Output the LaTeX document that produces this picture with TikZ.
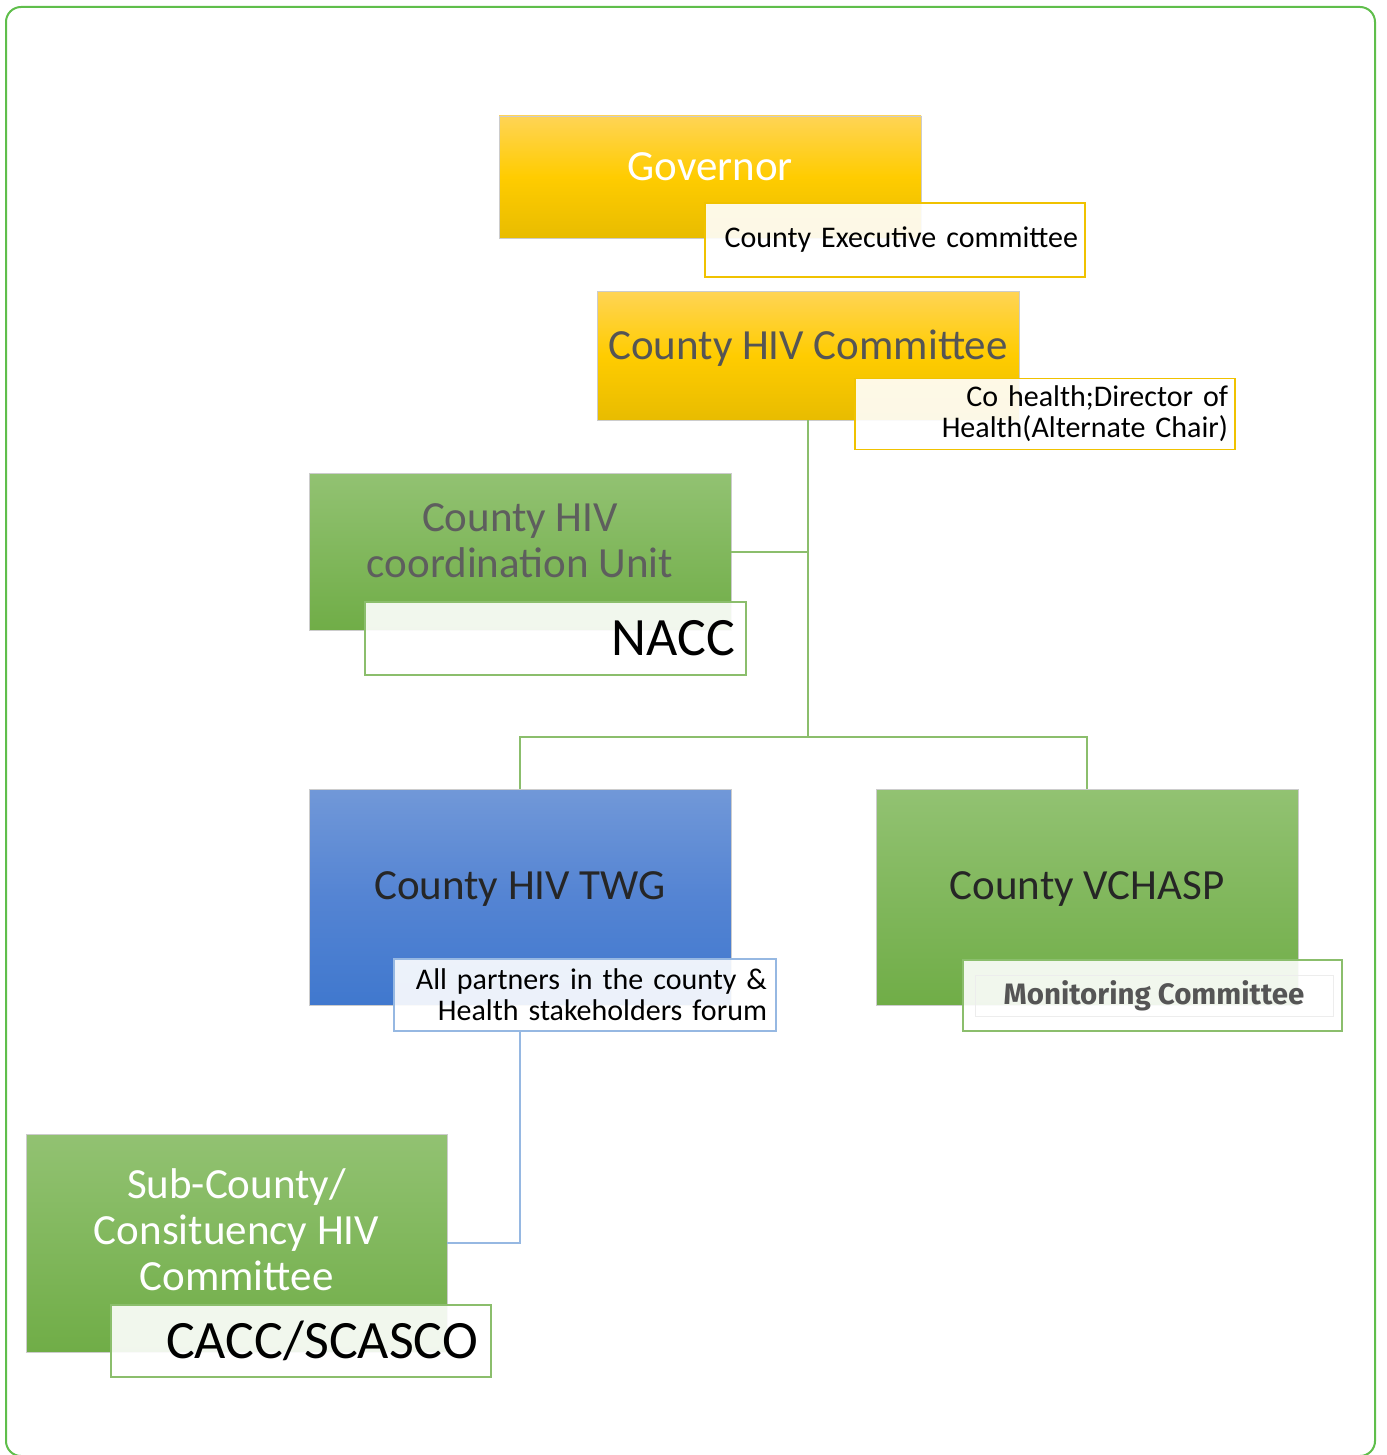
\documentclass[tikz,border=0pt]{standalone}
\usepackage{fontspec}
\setmainfont{Carlito}
\newfontfamily\tagfont{Fira Sans}
\usepackage{tikz}

\definecolor{frameg}{RGB}{95,190,75}
\definecolor{ytop}{RGB}{255,212,85}
\definecolor{ymid}{RGB}{255,204,0}
\definecolor{ybot}{RGB}{232,188,0}
\definecolor{gtop}{RGB}{146,194,114}
\definecolor{gbot}{RGB}{112,173,71}
\definecolor{btop}{RGB}{113,152,216}
\definecolor{bmid}{RGB}{84,132,211}
\definecolor{bbot}{RGB}{64,120,206}
\definecolor{goldline}{RGB}{240,194,0}
\definecolor{greenline}{RGB}{139,190,108}
\definecolor{blueline}{RGB}{150,184,226}
\definecolor{darktext}{RGB}{38,38,38}
\definecolor{graytext}{RGB}{85,85,85}

\begin{document}
\begin{tikzpicture}[x=1pt, y=-1pt,
	yellowbox/.style={rectangle, draw=black!20, line width=0.6pt,
		top color=ytop, bottom color=ybot, middle color=ymid},
	greenbox/.style={rectangle, draw=black!20, line width=0.6pt,
		top color=gtop, bottom color=gbot},
	bluebox/.style={rectangle, draw=black!20, line width=0.6pt,
		top color=btop, bottom color=bbot, middle color=bmid},
	tagbox/.style={rectangle, fill=white, fill opacity=0.9, text opacity=1,
		line width=1.2pt, inner ysep=0pt, align=right},
	bigtext/.style={font=\fontsize{43}{46}\selectfont, align=center},
	tagtext/.style={font=\fontsize{30}{31}\selectfont}]
	\useasboundingbox (0,0) rectangle (1386,1455);
	% frame
	\draw[frameg, line width=2pt, rounded corners=15pt] (6,7) rectangle (1375,1456);

	% boxes
	\node[yellowbox, minimum width=422pt, minimum height=122pt] (gov) at (710,177) {};
	\node[yellowbox, minimum width=422pt, minimum height=129pt] (chc) at (808,355.5) {};
	\node[greenbox, minimum width=422pt, minimum height=157pt] (unit) at (520,552) {};
	\node[bluebox, minimum width=422pt, minimum height=216pt] (twg) at (520,897) {};
	\node[greenbox, minimum width=422pt, minimum height=216pt] (vch) at (1087,897) {};
	\node[greenbox, minimum width=421pt, minimum height=218pt] (sub) at (236.5,1243) {};

	% texts in the boxes
	\node[bigtext, text=white] (govtxt) at (710,167) {Governor};
	\node[bigtext, text=graytext] (chctxt) at (808,348) {County HIV Committee};
	\node[bigtext, text=graytext!95] (unittxt) at (520,541) {County HIV\\coordination Unit};
	\node[bigtext, text=darktext] (twgtxt) at (520,889) {County HIV TWG};
	\node[bigtext, text=darktext] (vchtxt) at (1087,889) {County VCHASP};
	\node[bigtext, text=white] (subtxt) at (236.5,1230) {Sub-County/\\Consituency HIV\\Committee};

	% connectors
	\coordinate (split) at (808,737);
	\draw[greenline, line width=1.5pt] (chc.south) -- (split);
	\draw[greenline, line width=1.5pt] (chc.south |- unit.east) -- (unit.east);
	\draw[greenline, line width=1.5pt] (twg.north) |- (split) -| (vch.north);

	% tags
	\node[tagbox, draw=goldline, minimum width=380pt, minimum height=74pt,
		inner xsep=7pt, text width=366pt, tagtext] (govtag) at (895,240) {County Executive committee};
	\node[tagbox, draw=goldline, minimum width=380pt, minimum height=71pt,
		inner xsep=7pt, text width=366pt, tagtext] (chctag) at (1045,414) {Co health;Director of\\Health(Alternate Chair)};
	\node[tagbox, draw=greenline, minimum width=381pt, minimum height=73pt,
		inner xsep=11pt, text width=359pt, font=\fontsize{54}{56}\selectfont] (unittag) at (555.5,638.5) {NACC};
	\node[tagbox, draw=blueline, minimum width=382pt, minimum height=72pt,
		inner xsep=9pt, text width=364pt, tagtext] (twgtag) at (585,995) {All partners in the county \&\\Health stakeholders forum};
	\node[tagbox, draw=greenline, minimum width=379pt, minimum height=71pt] (vchtag) at (1152.5,995.5) {};
	\node[rectangle, draw=black!7, line width=1pt, minimum width=358pt, minimum height=41pt,
		text=graytext, font=\tagfont\bfseries\fontsize{29.5}{31}\selectfont] (vchinner) at (1154,995.5) {Monitoring Committee};
	\node[tagbox, draw=greenline, minimum width=380pt, minimum height=72pt,
		inner xsep=13pt, text width=354pt, font=\fontsize{54}{56}\selectfont] (subtag) at (301,1341) {CACC/SCASCO};

	\draw[blueline, line width=1.5pt] (twg.south |- twgtag.south) |- (sub.east);
\end{tikzpicture}
\end{document}
